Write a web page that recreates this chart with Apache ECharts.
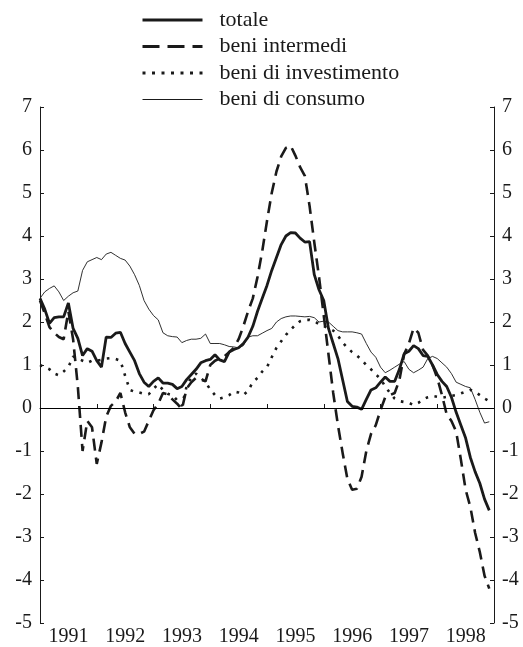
<!DOCTYPE html>
<html>
<head>
<meta charset="utf-8">
<script src="https://cdn.jsdelivr.net/npm/echarts@6/dist/echarts.min.js"></script>
<style>
html,body{margin:0;padding:0;background:#fff;}
#chart{width:523px;height:647px;}
</style>
</head>
<body>
<div id="chart"></div>
<script>
// Years covered (monthly data, Jan 1991 - Dec 1998)
const years = ['1991','1992','1993','1994','1995','1996','1997','1998'];
const yTicks = [-5,-4,-3,-2,-1,0,1,2,3,4,5,6,7];

const totale = [
  2.55,2.30,1.97,2.10,2.12,2.12,2.44,1.85,1.62,1.22,1.38,1.32,
  1.10,0.95,1.65,1.64,1.74,1.76,1.50,1.30,1.10,0.80,0.60,0.50,
  0.62,0.70,0.58,0.58,0.55,0.45,0.50,0.66,0.78,0.90,1.05,1.10,
  1.13,1.24,1.12,1.08,1.30,1.36,1.40,1.50,1.65,1.90,2.25,2.55,
  2.85,3.20,3.50,3.80,4.00,4.08,4.07,3.95,3.86,3.87,3.10,2.75,
  2.50,1.85,1.50,1.15,0.65,0.15,0.04,0.02,-0.03,0.20,0.42,0.47,
  0.60,0.72,0.62,0.62,0.90,1.26,1.32,1.45,1.38,1.22,1.20,1.00,
  0.78,0.62,0.50,0.25,-0.10,-0.40,-0.70,-1.15,-1.48,-1.75,-2.12,-2.38
];
const intermedi = [
  2.50,2.20,1.88,1.75,1.65,1.60,2.25,1.60,0.50,-1.00,-0.30,-0.45,
  -1.30,-0.80,-0.20,0.05,0.15,0.35,-0.10,-0.45,-0.60,-0.60,-0.55,-0.30,
  -0.05,0.10,0.35,0.32,0.20,0.10,-0.03,0.45,0.60,0.70,0.66,0.62,
  1.00,1.10,1.15,1.20,1.30,1.40,1.60,1.90,2.25,2.55,3.05,3.65,
  4.35,5.00,5.50,5.85,6.05,6.10,5.87,5.60,5.40,4.70,3.85,3.05,
  2.15,1.25,0.35,-0.40,-1.05,-1.65,-1.90,-1.88,-1.60,-1.00,-0.60,-0.40,
  -0.05,0.25,0.30,0.35,0.65,1.25,1.50,1.86,1.75,1.35,1.22,1.00,
  0.70,0.30,-0.15,-0.30,-0.55,-1.20,-1.90,-2.30,-2.90,-3.35,-3.90,-4.20
];
const investimento = [
  1.00,0.95,0.90,0.80,0.76,0.85,0.95,1.20,1.15,1.10,1.05,1.10,
  1.10,1.12,1.15,1.16,1.14,1.10,0.75,0.42,0.38,0.36,0.33,0.32,
  0.45,0.55,0.42,0.33,0.30,0.18,0.05,0.50,0.72,0.80,0.70,0.60,
  0.43,0.30,0.22,0.25,0.30,0.38,0.36,0.30,0.40,0.60,0.70,0.85,
  0.95,1.18,1.40,1.55,1.70,1.82,1.93,2.02,2.05,2.05,2.02,1.95,
  1.90,1.86,1.80,1.68,1.52,1.40,1.30,1.22,1.12,1.00,0.90,0.78,
  0.68,0.50,0.35,0.22,0.16,0.14,0.12,0.07,0.12,0.20,0.25,0.28,
  0.26,0.24,0.26,0.28,0.30,0.34,0.38,0.42,0.38,0.30,0.22,0.16
];
const consumo = [
  2.55,2.70,2.78,2.84,2.70,2.50,2.60,2.68,2.72,3.20,3.40,3.45,
  3.50,3.45,3.58,3.62,3.55,3.48,3.44,3.30,3.10,2.85,2.50,2.30,
  2.15,2.05,1.75,1.68,1.66,1.65,1.52,1.57,1.60,1.60,1.62,1.72,
  1.50,1.50,1.50,1.47,1.43,1.42,1.40,1.45,1.65,1.68,1.68,1.74,
  1.80,1.85,2.00,2.08,2.12,2.14,2.14,2.13,2.12,2.13,2.10,2.00,
  2.02,2.00,1.90,1.80,1.77,1.77,1.77,1.75,1.72,1.50,1.30,1.18,
  0.95,0.82,0.88,0.95,1.02,1.08,0.90,0.82,0.88,0.95,1.15,1.20,
  1.15,1.05,0.95,0.80,0.60,0.55,0.50,0.47,0.20,-0.10,-0.35,-0.32
];

// Monthly categories, plus the closing boundary (Jan 1999)
const months = [];
years.forEach(y => { for (let m = 1; m <= 12; m++) months.push(y + '-' + String(m).padStart(2,'0')); });
months.push('1999-01');

const FONT = "'Liberation Serif','DejaVu Serif',serif";
const INK = '#1a1a1a';

const chart = echarts.init(document.getElementById('chart'), null, {renderer:'canvas'});
const yAxisCommon = {
  type:'value', min:-5, max:7, interval:1,
  axisLine:{show:true, lineStyle:{color:INK, width:1}},
  axisTick:{show:true, inside:true, length:4, lineStyle:{color:INK}},
  splitLine:{show:false},
  axisLabel:{color:INK, fontFamily:FONT, fontSize:20, margin:8}
};
const noSym = {opacity:0};
chart.setOption({
  animation:false,
  backgroundColor:'#fff',
  legend:{
    orient:'vertical', left:136, top:4,
    itemWidth:60, itemHeight:14, itemGap:4.5,
    itemStyle:{opacity:0},
    textStyle:{color:INK, fontFamily:FONT, fontSize:22, padding:[0,0,0,12]},
    data:[
      {name:'totale', itemStyle:noSym, lineStyle:{width:3, type:'solid'}},
      {name:'beni intermedi', itemStyle:noSym, lineStyle:{width:3, type:[17,8]}},
      {name:'beni di investimento', itemStyle:noSym, lineStyle:{width:3, type:[3,6.5]}},
      {name:'beni di consumo', itemStyle:noSym, lineStyle:{width:1, type:'solid'}}
    ]
  },
  grid:{left:40, right:29, top:107, bottom:22, containLabel:false},
  xAxis:{
    type:'category', data:months, boundaryGap:false,
    axisLine:{show:true, lineStyle:{color:INK, width:1}},
    axisTick:{show:true, inside:true, length:4, interval:(i)=>i%12===0, lineStyle:{color:INK}},
    axisLabel:{color:INK, fontFamily:FONT, fontSize:20, margin:4,
      interval:(i)=>i%12===6, formatter:(v)=>v.slice(0,4)},
    splitLine:{show:false}
  },
  yAxis:[
    Object.assign({}, yAxisCommon, {position:'left'}),
    Object.assign({}, yAxisCommon, {position:'right'})
  ],
  series:[
    {name:'totale', type:'line', data:totale, symbol:'none', smooth:false,
     lineStyle:{color:INK, width:2.8}, itemStyle:{color:INK},
     markLine:{silent:true, symbol:['none','none'], label:{show:false},
       lineStyle:{color:'#000', width:1, type:'solid'}, data:[{yAxis:0}]}},
    {name:'beni intermedi', type:'line', data:intermedi, symbol:'none',
     lineStyle:{color:INK, width:2.6, type:[12,7]}, itemStyle:{color:INK}},
    {name:'beni di investimento', type:'line', data:investimento, symbol:'none',
     lineStyle:{color:INK, width:2.6, type:[2.6,6.5]}, itemStyle:{color:INK}},
    {name:'beni di consumo', type:'line', data:consumo, symbol:'none',
     lineStyle:{color:INK, width:0.9}, itemStyle:{color:INK}}
  ]
});
</script>
</body>
</html>
